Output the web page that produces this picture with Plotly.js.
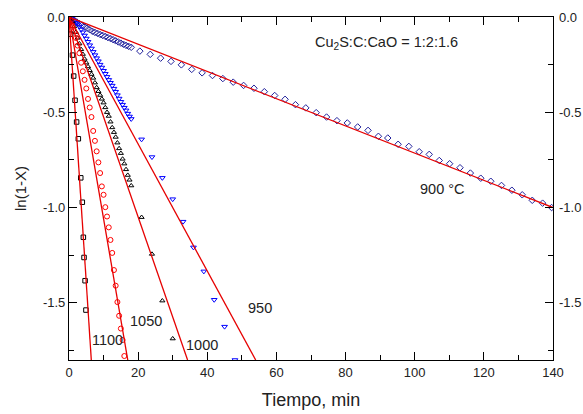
<!DOCTYPE html>
<html><head><meta charset="utf-8">
<script src="https://cdn.plot.ly/plotly-3.0.1.min.js"></script>
<style>html,body{margin:0;padding:0;background:#fff}#chart{width:583px;height:414px}</style>
</head><body><div id="chart"></div>
<script>
// ---- data ----
const t900 = [0,0.75,1.5,2.25,3,3.75,4.5,5.25,6,6.75,7.5,8.25,9,9.75,10.5,11.25,12,12.75,13.5,14.25,15,15.75,16.5,17.25,18,
  20.5,23.5,26.5,29.5,32.5,35.5,38.5,41.5,44.5,47.5,50.5,53.5,56.5,59.5,62.5,65.5,68.5,71.5,74.5,77.5,80.5,83.5,86.5,89.5,
  92.2,95.2,98.3,101.3,104.2,107.1,110.1,113.1,116.1,119.1,122.0,125.1,128.1,131.1,134.0,137.0,139.6];
const y900 = [0,-0.008,-0.017,-0.026,-0.035,-0.043,-0.051,-0.059,-0.067,-0.075,-0.081,-0.086,-0.092,-0.097,-0.102,-0.108,-0.113,-0.119,-0.125,-0.131,-0.137,-0.143,-0.149,-0.154,-0.159,
  -0.179,-0.196,-0.216,-0.233,-0.251,-0.275,-0.293,-0.307,-0.323,-0.342,-0.359,-0.374,-0.392,-0.412,-0.432,-0.46,-0.477,-0.502,-0.525,-0.544,-0.556,-0.577,-0.595,-0.626,
  -0.635,-0.668,-0.679,-0.707,-0.721,-0.753,-0.770,-0.791,-0.819,-0.846,-0.862,-0.884,-0.909,-0.933,-0.962,-0.977,-1.0];

const t950 = [0,0.5,1,1.5,2,2.5,3,3.5,4,4.5,5,5.5,6,6.5,7,7.5,8,8.5,9,9.5,10,10.5,11,11.5,12,12.5,13,13.5,14,14.5,15,15.5,16,16.5,17,17.5,18,
  21,24,27,30,33,36,39,42,45,48];
const y950 = [0,-0.005,-0.012,-0.022,-0.03,-0.038,-0.05,-0.065,-0.08,-0.097,-0.113,-0.13,-0.148,-0.165,-0.183,-0.2,-0.216,-0.232,-0.25,-0.265,-0.282,-0.298,-0.314,-0.33,-0.345,-0.36,-0.376,-0.392,-0.41,-0.428,-0.445,-0.46,-0.476,-0.49,-0.507,-0.522,-0.535,
  -0.642,-0.735,-0.844,-0.956,-1.074,-1.209,-1.335,-1.484,-1.625,-1.80];

const t1000 = [0,0.5,1,1.5,2,2.5,3,3.5,4,4.5,5,5.5,6,6.5,7,7.5,8,8.5,9,9.5,10,10.5,11,11.5,12,12.5,13,13.5,14,14.5,15,15.5,16,16.5,17,17.5,18,
  21,24,27,30];
const y1000 = [0,-0.01,-0.025,-0.05,-0.08,-0.11,-0.14,-0.17,-0.195,-0.22,-0.24,-0.26,-0.28,-0.30,-0.32,-0.345,-0.37,-0.39,-0.41,-0.43,-0.45,-0.475,-0.50,-0.52,-0.55,-0.58,-0.605,-0.63,-0.66,-0.69,-0.715,-0.745,-0.77,-0.80,-0.83,-0.855,-0.885,
  -1.051,-1.244,-1.489,-1.688];

const t1050 = [0,0.5,1,1.5,2,2.5,3,3.5,4,4.5,5,5.5,6,6.5,7,7.5,8,8.5,9,9.5,10,10.5,11,11.5,12,12.5,13,13.5,14,14.5,15,15.5,16];
const y1050 = [0,-0.02,-0.045,-0.075,-0.11,-0.15,-0.19,-0.24,-0.285,-0.33,-0.375,-0.43,-0.475,-0.525,-0.598,-0.65,-0.705,-0.763,-0.819,-0.889,-0.933,-0.998,-1.047,-1.104,-1.17,-1.238,-1.328,-1.41,-1.496,-1.568,-1.635,-1.695,-1.779];

const t1100 = [0,0.5,1.0,1.35,1.75,2.2,2.7,3.4,3.85,4.15,4.35,4.65,4.9];
const y1100 = [0,-0.09,-0.2,-0.31,-0.437,-0.551,-0.639,-0.844,-0.972,-1.156,-1.262,-1.384,-1.538];

// fitted straight lines (end points)
const fitX900 = [0,140],  fitY900 = [0,-1.0];
const fitX950 = [0,54.0], fitY950 = [0,-1.8];
const fitX1000 = [0,34.3], fitY1000 = [0,-1.8];
const fitX1050 = [0,17.0], fitY1050 = [0,-1.8];
const fitX1100 = [0,6.45], fitY1100 = [0,-1.8];

const yTickVals = [0,-0.5,-1.0,-1.5];
const yTickLabels = ['0.0','-0.5','-1.0','-1.5'];

const curveLabels = ['900 \u00b0C','950','1000','1050','1100'];
const labelX = [108.0,55.3,38.5,22.2,11.0];
const labelY = [-0.904,-1.529,-1.721,-1.596,-1.696];
const ratioText = 'Cu<sub>2</sub>S:C:CaO = 1:2:1.6';

// ---- traces ----
function pts(x,y,symbol,color,size){
  return {x:x,y:y,type:'scatter',mode:'markers',hoverinfo:'skip',
    marker:{symbol:symbol,size:size,color:color,line:{color:color,width:1}}};
}
function fit(x,y){
  return {x:x,y:y,type:'scatter',mode:'lines',hoverinfo:'skip',line:{color:'#e60000',width:1.3}};
}
const data = [
  pts(t900,y900,'diamond-open','#22229c',5),
  pts(t950,y950,'triangle-down-open','#0000ff',5),
  pts(t1000,y1000,'triangle-up-open','#000000',4.5),
  pts(t1050,y1050,'circle-open','#ff0000',5),
  pts(t1100,y1100,'square-open','#000000',4.5),
  fit(fitX900,fitY900), fit(fitX950,fitY950), fit(fitX1000,fitY1000), fit(fitX1050,fitY1050), fit(fitX1100,fitY1100)
];

const annotations = curveLabels.map((s,i)=>({x:labelX[i],y:labelY[i],xref:'x',yref:'y',text:s,showarrow:false,
  font:{size:14.5,color:'#222'}}));
annotations.push({x:91.7,y:-0.134,xref:'x',yref:'y',text:ratioText,showarrow:false,font:{size:14.5,color:'#222'}});
// right-hand tick labels (same values as the left axis)
yTickVals.forEach((v,i)=>annotations.push({x:1,xref:'paper',xanchor:'left',xshift:4,y:v,yref:'y',yanchor:'middle',
  text:yTickLabels[i],showarrow:false,font:{size:13,color:'#222'}}));

const layout = {
  width:583,height:414,margin:{l:69,r:30,t:17,b:54},
  paper_bgcolor:'#fff',plot_bgcolor:'#fff',showlegend:false,
  font:{family:'Liberation Sans, Arial, sans-serif',color:'#222',size:13},
  xaxis:{range:[0,140],tickmode:'linear',tick0:0,dtick:20,ticks:'inside',ticklen:8,tickwidth:1.3,tickcolor:'#000',
    showline:true,linecolor:'#000',linewidth:1.2,mirror:'ticks',showgrid:false,zeroline:false,tickfont:{size:13,color:'#222'},
    minor:{dtick:10,ticks:'inside',ticklen:5,tickwidth:1.3,tickcolor:'#000'},
    title:{text:'Tiempo, min',font:{size:18,color:'#222'},standoff:14}},
  yaxis:{range:[-1.8,0],tickmode:'array',tickvals:yTickVals,ticktext:yTickLabels,ticks:'inside',ticklen:8,tickwidth:1.3,tickcolor:'#000',
    showline:true,linecolor:'#000',linewidth:1.2,mirror:'ticks',showgrid:false,zeroline:false,tickfont:{size:13,color:'#222'},
    minor:{tickmode:'linear',tick0:0,dtick:0.25,ticks:'inside',ticklen:5,tickwidth:1.3,tickcolor:'#000'},
    title:{text:'ln(1-X)',font:{size:15,color:'#222'},standoff:12}},
  annotations:annotations
};
Plotly.newPlot('chart',data,layout,{displayModeBar:false});
</script></body></html>
